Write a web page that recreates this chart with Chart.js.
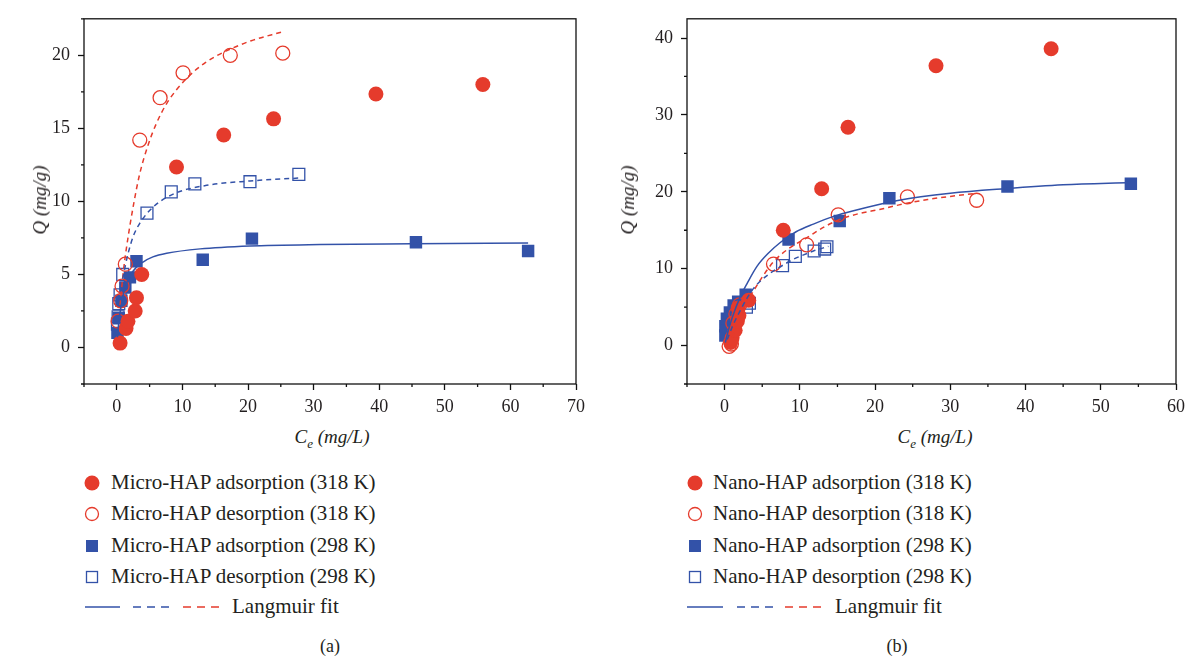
<!DOCTYPE html>
<html>
<head>
<meta charset="utf-8">
<script src="https://cdn.jsdelivr.net/npm/chart.js@4.4.1/dist/chart.umd.min.js"></script>
<style>
  body { margin: 0; background: #fff; width: 1191px; height: 657px; position: relative; overflow: hidden;
         font-family: 'Liberation Serif', 'Times New Roman', serif; color: #231f20; }
  .wrap { position: absolute; top: 0; height: 424px; }
  #wa { left: 0; width: 600px; }
  #wb { left: 600px; width: 591px; }
  .ytitle { position: absolute; transform: translate(-50%, -50%) rotate(-90deg); font-style: italic; font-size: 19px; white-space: nowrap; }
  .xtitle { position: absolute; transform: translate(-50%, -50%); font-style: italic; font-size: 19px; white-space: nowrap; }
  .xtitle sub { font-size: 13px; }
  .lg { position: absolute; font-size: 21px; white-space: nowrap; line-height: 30px; height: 30px; }
  .mk { position: absolute; }
  .caption { position: absolute; font-size: 18px; transform: translate(-50%, -50%); }
</style>
</head>
<body>
<div class="wrap" id="wa"><canvas id="chartA"></canvas></div>
<div class="wrap" id="wb"><canvas id="chartB"></canvas></div>

<div class="ytitle" style="left:40px; top:200px;">Q (mg/g)</div>
<div class="xtitle" style="left:332px; top:439px;">C<sub>e</sub> (mg/L)</div>
<div class="ytitle" style="left:628px; top:200px;">Q (mg/g)</div>
<div class="xtitle" style="left:935px; top:439px;">C<sub>e</sub> (mg/L)</div>
<div class="caption" style="left:330px; top:646px;">(a)</div>
<div class="caption" style="left:897px; top:646px;">(b)</div>
<div id="legends"></div>

<script>
// ---- panel (a): Micro-HAP ----
const microAds318 = [[0.5,0.3],[1.4,1.3],[1.7,1.8],[2.8,2.5],[3.0,3.4],[3.8,5.0],[9.1,12.35],[16.3,14.55],[23.9,15.65],[39.5,17.35],[55.8,18.0]];
const microDes318 = [[0.2,1.8],[0.6,3.2],[0.8,4.2],[1.3,5.7],[3.5,14.2],[6.6,17.1],[10.1,18.8],[17.3,20.0],[25.3,20.15]];
const microAds298 = [[0.1,1.0],[0.3,2.0],[0.7,3.2],[1.3,4.1],[2.0,4.8],[3.0,5.9],[13.1,6.0],[20.6,7.45],[45.6,7.2],[62.7,6.6]];
const microDes298 = [[0.1,1.6],[0.2,2.1],[0.3,3.0],[0.5,3.6],[0.9,5.0],[4.6,9.2],[8.3,10.65],[11.9,11.2],[20.3,11.35],[27.75,11.85]];
// Langmuir fit curves
const microFitAds298 = [[0.1,0.7],[0.3,1.7],[0.6,2.7],[1.0,3.65],[1.5,4.4],[2.0,4.9],[3.0,5.5],[4.0,5.85],[5.5,6.2],[7.6,6.45],[12.7,6.75],[20.3,6.95],[31,7.05],[45,7.1],[62.7,7.15]];
const microFitDes298 = [[0.9,4.7],[1.3,5.6],[1.7,6.4],[2.5,7.6],[3.5,8.5],[5.5,9.6],[8.6,10.5],[13.7,11.1],[20.3,11.4],[27.9,11.6]];
const microFitDes318 = [[0.5,2.9],[1.0,5.2],[1.5,6.9],[2.6,9.9],[3.5,11.9],[4.8,13.9],[6.0,15.3],[7.6,16.7],[10.6,18.4],[13.5,19.5],[16.7,20.3],[20.5,21.0],[25.2,21.6]];

// ---- panel (b): Nano-HAP ----
const nanoAds318 = [[0.8,0.4],[1.0,1.0],[1.4,2.0],[1.7,3.2],[1.9,3.9],[1.8,4.9],[3.2,5.9],[7.8,15.0],[12.9,20.4],[16.4,28.4],[28.1,36.4],[43.4,38.6]];
const nanoDes318 = [[0.6,-0.1],[0.9,0.2],[1.1,2.9],[1.5,4.1],[2.0,5.3],[6.5,10.6],[10.9,13.1],[15.1,17.0],[24.3,19.35],[33.5,18.9]];
const nanoAds298 = [[0.1,1.3],[0.1,2.5],[0.3,3.5],[0.7,4.3],[1.2,5.2],[1.8,5.7],[2.8,6.6],[8.5,13.8],[15.3,16.2],[21.9,19.15],[37.6,20.7],[54.0,21.05]];
const nanoDes298 = [[0.4,1.8],[0.8,3.0],[1.4,4.2],[2.9,5.0],[3.3,5.5],[7.7,10.4],[9.4,11.6],[11.9,12.3],[13.3,12.55],[13.6,12.85]];
const nanoFitAds298 = [[0.1,0.4],[0.5,2.0],[1.0,3.6],[2.1,6.4],[3.0,8.1],[4.3,10.3],[5.8,12.0],[7.4,13.4],[9.5,14.8],[11.8,15.8],[14.5,16.8],[17.0,17.5],[23.2,18.9],[30,19.8],[37.3,20.4],[45,20.9],[54,21.2]];
const nanoFitDes298 = [[0.35,0.8],[1.0,2.4],[2.1,4.6],[3.0,6.2],[3.9,7.5],[5.0,8.6],[6.5,9.7],[8.0,10.6],[9.1,11.2],[10.5,11.8],[11.8,12.3],[13.8,12.9]];
const nanoFitDes318 = [[1.0,1.0],[1.5,2.5],[2.2,4.2],[3.0,5.7],[3.9,7.2],[5.0,8.9],[6.5,10.9],[8.5,12.6],[10.9,14.0],[13.0,15.3],[15.3,16.4],[18.0,17.2],[20.6,17.7],[23.2,18.3],[27,19.0],[30,19.4],[33.4,19.8]];

const legendA = ['Micro-HAP adsorption (318 K)', 'Micro-HAP desorption (318 K)', 'Micro-HAP adsorption (298 K)', 'Micro-HAP desorption (298 K)', 'Langmuir fit'];
const legendB = ['Nano-HAP adsorption (318 K)', 'Nano-HAP desorption (318 K)', 'Nano-HAP adsorption (298 K)', 'Nano-HAP desorption (298 K)', 'Langmuir fit'];

const RED = '#e53b2c';
const BLUE = '#3352a8';
const FONT = "'Liberation Serif', 'Times New Roman', serif";

const pts = (arr) => arr.map(([x, y]) => ({ x, y }));

function fitLine(data, color, dashed) {
  return {
    data: pts(data), showLine: true, pointRadius: 0, borderColor: color, borderWidth: 1.5,
    borderDash: dashed ? [5, 4] : [], cubicInterpolationMode: 'monotone', fill: false
  };
}
function marker(data, color, style, open) {
  return {
    data: pts(data), showLine: false, pointStyle: style,
    pointRadius: style === 'rect' ? (open ? 8.4 : 8.8) : (open ? 7 : 7.5),
    backgroundColor: open ? 'rgba(255,255,255,0)' : color,
    borderColor: color, borderWidth: open ? 1.3 : 0
  };
}

// box frame + short minor ticks
const framePlugin = {
  id: 'frame',
  beforeDatasetsDraw(chart) {
    const { ctx, chartArea: a } = chart;
    ctx.save();
    ctx.strokeStyle = '#111';
    ctx.lineWidth = 1.3;
    ctx.strokeRect(a.left, a.top, a.right - a.left, a.bottom - a.top);
    const o = chart.options.plugins.frame;
    ctx.beginPath();
    for (let v = o.xmin; v <= o.xmax + 1e-9; v += o.xminor) {
      if (isMajor(v, o.xmajor)) continue;
      const px = chart.scales.x.getPixelForValue(v);
      ctx.moveTo(px, a.bottom); ctx.lineTo(px, a.bottom + 3);
    }
    for (let v = o.ymin; v <= o.ymax + 1e-9; v += o.yminor) {
      if (isMajor(v, o.ymajor)) continue;
      const py = chart.scales.y.getPixelForValue(v);
      ctx.moveTo(a.left, py); ctx.lineTo(a.left - 3, py);
    }
    ctx.stroke();
    ctx.restore();
  }
};

function isMajor(v, step) { return Math.abs(v / step - Math.round(v / step)) < 1e-6; }

// only the major values get a tick from Chart.js; minor ones come from the plugin
function majorTicks(min, max, step) {
  const out = [];
  for (let v = Math.ceil(min / step) * step; v <= max + 1e-9; v += step) out.push({ value: v });
  return out;
}

function makeChart(id, datasets, r) {
  return new Chart(document.getElementById(id), {
    type: 'scatter',
    data: { datasets },
    plugins: [framePlugin],
    options: {
      responsive: true, maintainAspectRatio: false, animation: false, events: [],
      layout: { padding: { left: r.padLeft, right: r.padRight, top: 15, bottom: 0 } },
      plugins: {
        legend: { display: false }, tooltip: { enabled: false },
        frame: { xmin: r.xmin, xmax: r.xmax, xminor: r.xminor, xmajor: r.xmajor,
                 ymin: r.ymin, ymax: r.ymax, yminor: r.yminor, ymajor: r.ymajor }
      },
      scales: {
        x: {
          type: 'linear', min: r.xmin, max: r.xmax,
          afterBuildTicks: (s) => { s.ticks = majorTicks(r.xmin, r.xmax, r.xmajor); },
          afterFit: (s) => { s.height = 40; },
          border: { display: false },
          grid: { drawOnChartArea: false, tickLength: 6, tickWidth: 1.3, tickColor: '#111' },
          ticks: { padding: 6, color: '#231f20', font: { family: FONT, size: 18 },
                   maxRotation: 0, autoSkip: false }
        },
        y: {
          type: 'linear', min: r.ymin, max: r.ymax,
          afterBuildTicks: (s) => { s.ticks = majorTicks(r.ymin, r.ymax, r.ymajor); },
          afterFit: (s) => { s.width = 50; },
          border: { display: false },
          grid: { drawOnChartArea: false, tickLength: 6, tickWidth: 1.3, tickColor: '#111' },
          ticks: { padding: 8, color: '#231f20', font: { family: FONT, size: 18 }, autoSkip: false }
        }
      }
    }
  });
}

makeChart('chartA', [
  fitLine(microFitAds298, BLUE, false),
  fitLine(microFitDes298, BLUE, true),
  fitLine(microFitDes318, RED, true),
  marker(microAds318, RED, 'circle', false),
  marker(microDes318, RED, 'circle', true),
  marker(microAds298, BLUE, 'rect', false),
  marker(microDes298, BLUE, 'rect', true)
], { padLeft: 34, padRight: 24, xmin: -5, xmax: 70, xminor: 5, xmajor: 10, ymin: -2.5, ymax: 22.5, yminor: 2.5, ymajor: 5 });

makeChart('chartB', [
  fitLine(nanoFitAds298, BLUE, false),
  fitLine(nanoFitDes298, BLUE, true),
  fitLine(nanoFitDes318, RED, true),
  marker(nanoAds318, RED, 'circle', false),
  marker(nanoDes318, RED, 'circle', true),
  marker(nanoAds298, BLUE, 'rect', false),
  marker(nanoDes298, BLUE, 'rect', true)
], { padLeft: 37, padRight: 12, xmin: -5, xmax: 60, xminor: 5, xmajor: 10, ymin: -5, ymax: 42.5, yminor: 5, ymajor: 10 });

// legends (HTML, below each panel)
function symbolSvg(kind) {
  if (kind === 0) return `<svg width="20" height="20"><circle cx="10" cy="10" r="7.5" fill="${RED}"/></svg>`;
  if (kind === 1) return `<svg width="20" height="20"><circle cx="10" cy="10" r="6.5" fill="none" stroke="${RED}" stroke-width="1.3"/></svg>`;
  if (kind === 2) return `<svg width="20" height="20"><rect x="4" y="4" width="12" height="12" fill="${BLUE}"/></svg>`;
  return `<svg width="20" height="20"><rect x="4.5" y="4.5" width="11" height="11" fill="none" stroke="${BLUE}" stroke-width="1.3"/></svg>`;
}
function buildLegend(labels, mx, tx, lineX, lineTx) {
  const rows = [483, 514, 546, 577, 607];
  let html = '';
  labels.forEach((lab, i) => {
    const cy = rows[i];
    if (i < 4) {
      html += `<div class="mk" style="left:${mx - 10}px; top:${cy - 10}px;">${symbolSvg(i)}</div>`;
      html += `<div class="lg" style="left:${tx}px; top:${cy - 16}px;">${lab}</div>`;
    } else {
      const [s0, s1, b0, b1, r0, r1] = lineX;
      html += `<svg class="mk" style="left:0; top:${cy - 5}px;" width="1191" height="10">
        <line x1="${s0}" y1="5" x2="${s1}" y2="5" stroke="${BLUE}" stroke-width="1.5"/>
        <line x1="${b0}" y1="5" x2="${b1}" y2="5" stroke="${BLUE}" stroke-width="1.5" stroke-dasharray="8 6"/>
        <line x1="${r0}" y1="5" x2="${r1}" y2="5" stroke="${RED}" stroke-width="1.5" stroke-dasharray="8 6"/>
      </svg>`;
      html += `<div class="lg" style="left:${lineTx}px; top:${cy - 16}px;">${lab}</div>`;
    }
  });
  return html;
}
document.getElementById('legends').innerHTML =
  buildLegend(legendA, 92, 111, [85, 120, 133, 171, 183, 221], 232) +
  buildLegend(legendB, 695, 713, [687, 723, 737, 775, 785, 823], 835);
</script>
</body>
</html>
